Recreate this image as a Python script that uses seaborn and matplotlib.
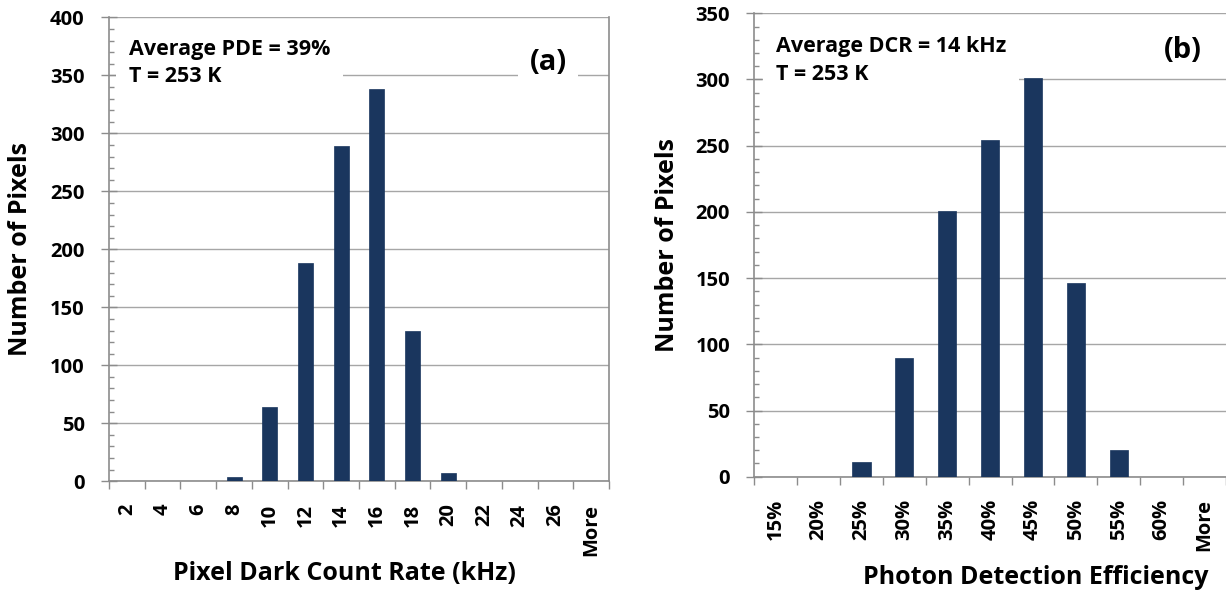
import matplotlib
matplotlib.use("Agg")
import matplotlib.pyplot as plt
import seaborn as sns
import pandas as pd
from matplotlib.ticker import MultipleLocator, FixedLocator

# ---- data ----
dcr_labels = ['2', '4', '6', '8', '10', '12', '14', '16', '18', '20', '22', '24', '26', 'More']
dcr_counts = [0, 0, 0, 4, 64, 188, 289, 338, 130, 7, 0, 0, 0, 0]

pde_labels = ['15%', '20%', '25%', '30%', '35%', '40%', '45%', '50%', '55%', '60%', 'More']
pde_counts = [0, 0, 11, 90, 201, 254, 301, 146, 20, 0, 0]

sns.set_theme(style="white")
plt.rcParams['font.family'] = ['Open Sans', 'DejaVu Sans']
plt.rcParams['font.weight'] = 'bold'
plt.rcParams['text.color'] = 'black'
plt.rcParams['xtick.labelcolor'] = 'black'
plt.rcParams['ytick.labelcolor'] = 'black'

W, H = 1226, 595
fig = plt.figure(figsize=(W / 100, H / 100), dpi=100)

BAR = '#1a365e'
GRID = '#a6a6a6'
AXC = '#8c8c8c'
TICKFS = 14.5


def px_axes(l, t, r, b):
    return fig.add_axes([l / W, 1 - b / H, (r - l) / W, (b - t) / H])


def style(ax, labels, ymax, ystep):
    n = len(labels)
    ax.set_xlim(-0.5, n - 0.5)
    ax.set_ylim(0, ymax)
    ax.yaxis.set_major_locator(MultipleLocator(ystep))
    ax.yaxis.set_minor_locator(MultipleLocator(10))
    ax.grid(axis='y', which='major', color=GRID, lw=1.0, zorder=0)
    ax.set_axisbelow(True)
    ax.xaxis.set_minor_locator(FixedLocator([i - 0.5 for i in range(n + 1)]))
    ax.tick_params(axis='x', which='major', length=0, pad=16, labelsize=TICKFS, rotation=90,
                   labelcolor='black')
    ax.tick_params(axis='x', which='minor', direction='out', length=6, width=1, color=AXC, bottom=True)
    ax.tick_params(axis='y', which='major', direction='inout', length=11, width=1, color=AXC,
                   pad=12, labelsize=TICKFS, left=True, labelcolor='black')
    ax.tick_params(axis='y', which='minor', direction='in', length=3.6, width=1, color=AXC, left=True)
    for t in ax.get_xticklabels() + ax.get_yticklabels():
        t.set_fontweight('bold')
    for s in ['left', 'bottom']:
        ax.spines[s].set_color(AXC)
        ax.spines[s].set_linewidth(1.2)
    ax.spines['top'].set_visible(False)
    ax.set_xlabel('')
    ax.set_ylabel('')


# ---- panel (a) ----
axa = px_axes(109, 17.3, 609, 481.3)
dfa = pd.DataFrame({'bin': dcr_labels, 'count': dcr_counts})
sns.barplot(data=dfa, x='bin', y='count', ax=axa, color=BAR, width=0.42, saturation=1,
            edgecolor=BAR, linewidth=0.5, zorder=3)
style(axa, dcr_labels, 400, 50)
axa.spines['right'].set_color(AXC)
axa.spines['right'].set_linewidth(1.2)

# ---- panel (b) ----
axb = px_axes(754.3, 13.3, 1226, 476.7)
dfb = pd.DataFrame({'bin': pde_labels, 'count': pde_counts})
sns.barplot(data=dfb, x='bin', y='count', ax=axb, color=BAR, width=0.42, saturation=1,
            edgecolor=BAR, linewidth=0.5, zorder=3)
style(axb, pde_labels, 350, 50)
axb.spines['right'].set_visible(False)

# ---- labels ----
lab = dict(fontsize=18, fontweight='bold', color='black')
fig.text(344 / W, 1 - 574 / H, 'Pixel Dark Count Rate (kHz)', ha='center', va='center', **lab)
fig.text(1036 / W, 1 - 578 / H, 'Photon Detection Efficiency', ha='center', va='center', **lab)
fig.text(21 / W, 1 - 249 / H, 'Number of Pixels', rotation=90, ha='center', va='center', **lab)
fig.text(668 / W, 1 - 245 / H, 'Number of Pixels', rotation=90, ha='center', va='center', **lab)

box = dict(boxstyle='square,pad=0.6', fc='white', ec='none')
fig.text(129 / W, 1 - 82 / H, 'Average PDE = 39%\nT = 253 K', ha='left', va='baseline',
         fontsize=15.5, fontweight='bold', linespacing=1.35, bbox=box, color='black')
fig.text(776 / W, 1 - 80 / H, 'Average DCR = 14 kHz\nT = 253 K', ha='left', va='baseline',
         fontsize=15.5, fontweight='bold', linespacing=1.45, bbox=box, color='black')
fig.text(548 / W, 1 - 63 / H, '(a)', ha='center', va='center', fontsize=21, fontweight='bold',
         color='black', bbox=dict(boxstyle='square,pad=0.4', fc='white', ec='none'))
fig.text(1183 / W, 1 - 50 / H, '(b)', ha='center', va='center', fontsize=21, fontweight='bold',
         color='black', bbox=dict(boxstyle='square,pad=0.4', fc='white', ec='none'))

fig.savefig('out.png', dpi=100, facecolor='white')
